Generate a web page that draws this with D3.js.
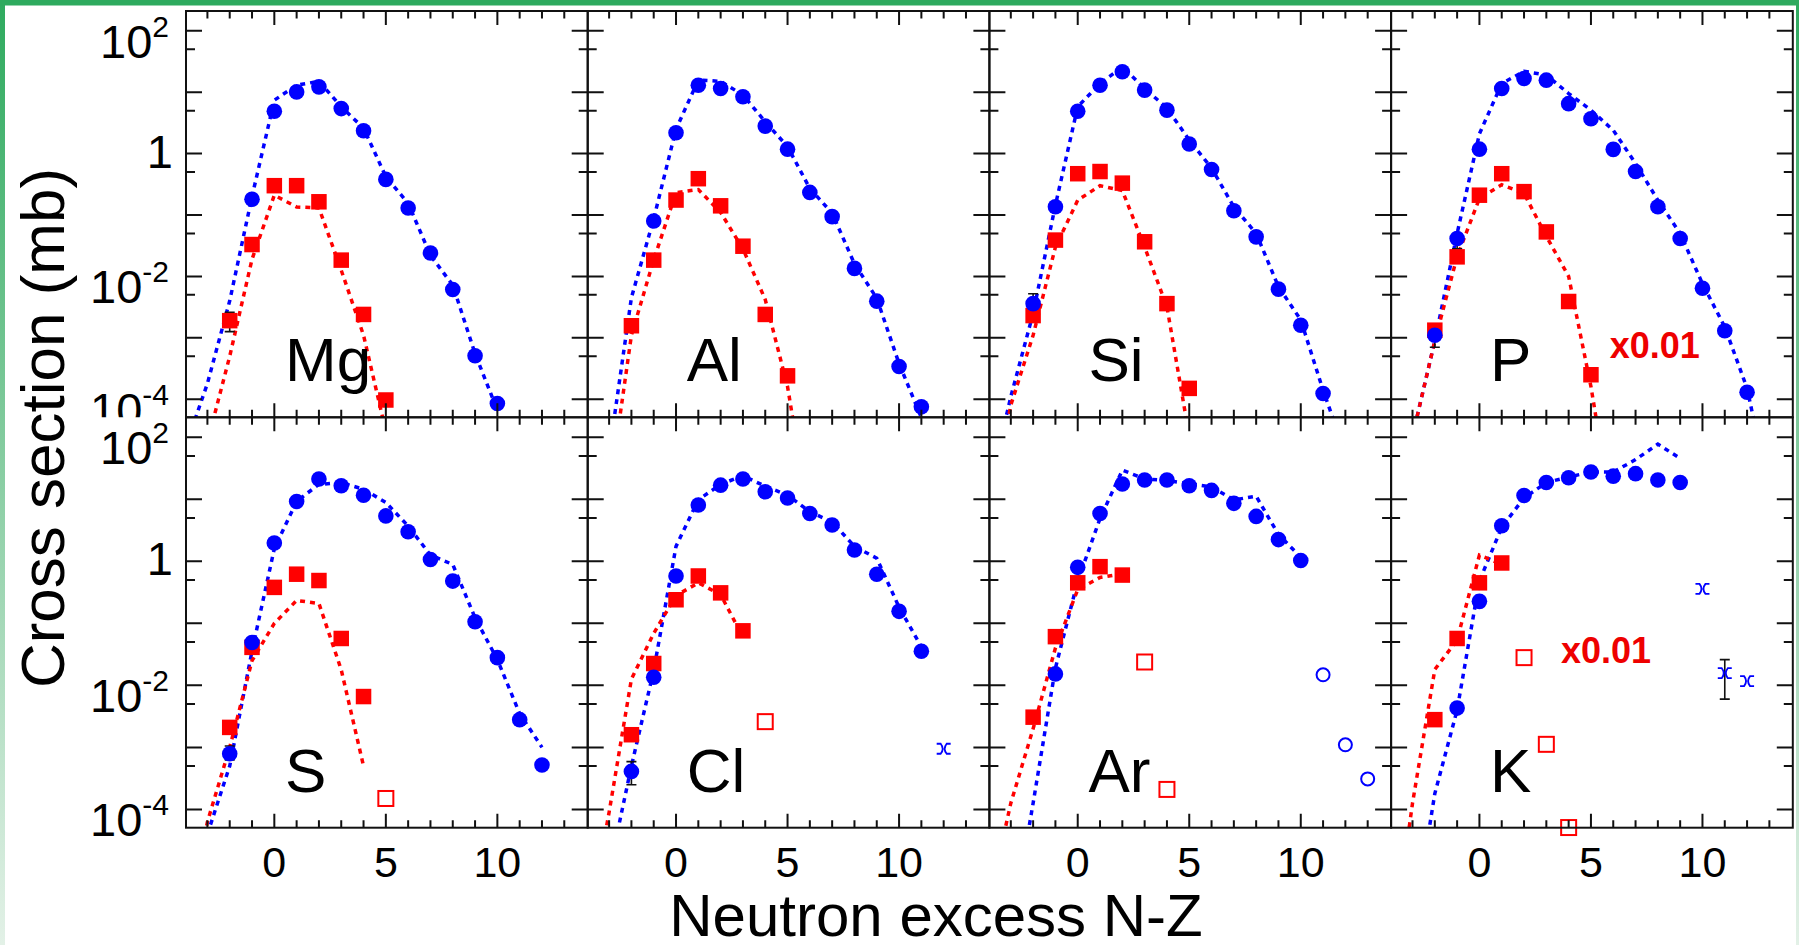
<!DOCTYPE html>
<html>
<head>
<meta charset="utf-8">
<script src="https://cdn.jsdelivr.net/npm/d3@7"></script>
<style>
  body { margin: 0; background: #fff; }
  svg { display: block; }
  text { font-family: "Liberation Sans", Arial, Helvetica, sans-serif; }
</style>
</head>
<body>
<svg id="chart" width="1799" height="945"></svg>
<script>
// one panel per element, 4 per row
var elements = ["Mg", "Al", "Si", "P", "S", "Cl", "Ar", "K"];

// measured cross sections [N-Z, mb], blue = filled circles
var blueFilled = [
  [[-1,0.18],[0,4.9],[1,10.1],[2,12.2],[3,5.4],[4,2.35],[5,0.38],[6,0.13],[7,0.024],[8,0.0061],[9,5.1e-4],[10,8.5e-5]],
  [[-1,0.080],[0,2.18],[1,13.0],[2,11.5],[3,8.4],[4,2.8],[5,1.18],[6,0.233],[7,0.094],[8,0.0135],[9,0.00395],[10,3.4e-4],[11,7.5e-5]],
  [[-2,3.6e-3],[-1,0.136],[0,4.9],[1,13],[2,21.5],[3,10.8],[4,5.1],[5,1.43],[6,0.55],[7,0.117],[8,0.044],[9,6.2e-3],[10,1.6e-3],[11,1.24e-4]],
  [[-2,1.1e-3],[-1,0.0415],[0,1.18],[1,11.5],[2,16.7],[3,15.7],[4,6.5],[5,3.7],[6,1.17],[7,0.51],[8,0.136],[9,0.0415],[10,6.4e-3],[11,1.3e-3],[12,1.3e-4]],
  [[-2,7.9e-4],[-1,0.049],[0,1.97],[1,9.2],[2,21.3],[3,16.5],[4,11.6],[5,5.4],[6,3.0],[7,1.07],[8,0.48],[9,0.106],[10,0.028],[11,2.8e-3],[12,5.2e-4]],
  [[-2,4.1e-4],[-1,0.0135],[0,0.58],[1,8.1],[2,16.9],[3,21.3],[4,13.2],[5,10.5],[6,5.9],[7,3.85],[8,1.52],[9,0.62],[10,0.156],[11,0.0354]],
  [[-1,0.0153],[0,0.8],[1,5.9],[2,17.6],[3,20.5],[4,20.5],[5,16.5],[6,13.9],[7,8.6],[8,5.3],[9,2.24],[10,1.03]],
  [[-1,4.3e-3],[0,0.226],[1,3.75],[2,11.5],[3,18.7],[4,22.2],[5,27.6],[6,23.6],[7,25.9],[8,20.5],[9,18.7]]
];

// red = filled squares
var redFilled = [
  [[-2,1.9e-3],[-1,0.033],[0,0.30],[1,0.30],[2,0.164],[3,0.0184],[4,2.4e-3],[5,9.7e-5]],
  [[-2,1.57e-3],[-1,0.0184],[0,0.175],[1,0.39],[2,0.141],[3,0.031],[4,2.4e-3],[5,2.4e-4]],
  [[-2,2.3e-3],[-1,0.039],[0,0.47],[1,0.51],[2,0.33],[3,0.0366],[4,3.6e-3],[5,1.5e-4]],
  [[-2,1.33e-3],[-1,0.0208],[0,0.21],[1,0.47],[2,0.24],[3,0.053],[4,3.9e-3],[5,2.5e-4]],
  [[-2,2.1e-3],[-1,0.041],[0,0.38],[1,0.62],[2,0.49],[3,0.057],[4,6.6e-3]],
  [[-2,1.6e-3],[-1,0.0225],[0,0.24],[1,0.58],[2,0.31],[3,0.0757]],
  [[-2,3.07e-3],[-1,0.061],[0,0.45],[1,0.82],[2,0.60]],
  [[-2,2.8e-3],[-1,0.057],[0,0.45],[1,0.94]]
];

// open symbols
var redOpen = [[], [], [], [], [[5,1.5e-4]], [[4,2.6e-3]], [[3,0.0238],[4,2.1e-4]], [[2,0.028],[3,1.12e-3],[4,5.1e-5]]];
var blueOpen = [[], [], [], [], [], [], [[11,0.0148],[12,1.1e-3],[13,3.1e-4]], []];
var blueCross = [[], [], [], [], [], [[12,9.5e-4]], [], [[10,0.36],[11,0.0157],[12,0.0117]]];

// model curves (dashed)
var blueModel = [
  [[-4,1.6e-5],[-3,1.8e-4],[-2,4e-3],[-1,0.2],[0,7.4],[1,13],[2,15],[3,5.8],[4,2.6],[5,0.42],[6,0.155],[7,0.022],[8,0.0072],[9,5.5e-4],[10,6.6e-5]],
  [[-3,1.3e-5],[-2,4.5e-3],[-1,0.087],[0,2.5],[1,15.8],[2,15],[3,9],[4,3.3],[5,1.3],[6,0.27],[7,0.107],[8,0.016],[9,0.0044],[10,3.8e-4],[11,5e-5]],
  [[-4,3e-6],[-3,1.1e-4],[-2,2.5e-3],[-1,0.145],[0,5.8],[1,13.8],[2,25.7],[3,11.5],[4,5.5],[5,1.66],[6,0.58],[7,0.135],[8,0.05],[9,6.8e-3],[10,1.95e-3],[11,1.4e-4],[12,1.3e-5]],
  [[-3,2.5e-5],[-2,8.9e-4],[-1,0.05],[0,2.1],[1,13.8],[2,21.9],[3,19],[4,9.5],[5,5.1],[6,2.4],[7,0.69],[8,0.174],[9,0.05],[10,7.6e-3],[11,1.5e-3],[12,1.5e-4],[13,3e-6]],
  [[-3,4e-5],[-2,5e-4],[-1,0.036],[0,1.6],[1,9.3],[2,17.4],[3,18.6],[4,14.5],[5,8.9],[6,3.7],[7,1.26],[8,0.89],[9,0.123],[10,0.026],[11,3.5e-3],[12,1e-3]],
  [[-3,1e-5],[-2,5e-4],[-1,0.0174],[0,1.74],[1,9.8],[2,17.4],[3,24],[4,16.2],[5,11.7],[6,6.3],[7,4.3],[8,1.74],[9,1.12],[10,0.182],[11,0.0417]],
  [[-3,1e-6],[-2,1.26e-4],[-1,0.019],[0,0.48],[1,4.9],[2,29.5],[3,21.4],[4,20],[5,17.8],[6,15.8],[7,9.8],[8,11.2],[9,2.7],[10,1.17]],
  [[-3,1e-6],[-2,1.8e-4],[-1,4e-3],[0,0.48],[1,3.55],[2,10.5],[3,18.6],[4,22.9],[5,27.5],[6,27.5],[7,43.6],[8,77.6],[9,45.7]]
];
var redModel = [
  [[-3,2e-5],[-2,5e-4],[-1,0.019],[0,0.21],[1,0.135],[2,0.13],[3,0.0126],[4,1.1e-3],[5,3e-5]],
  [[-3,3e-6],[-2,1.1e-3],[-1,0.0186],[0,0.23],[1,0.26],[2,0.11],[3,0.028],[4,4.2e-3],[5,1.6e-4],[6,1e-6]],
  [[-4,1e-6],[-3,8e-5],[-2,1.1e-3],[-1,0.03],[0,0.174],[1,0.3],[2,0.25],[3,0.03],[4,3.2e-3],[5,2.5e-5]],
  [[-3,2.5e-5],[-2,8.9e-4],[-1,0.021],[0,0.186],[1,0.31],[2,0.224],[3,0.045],[4,0.01],[5,1.6e-4],[6,1e-6]],
  [[-4,1e-6],[-3,6.3e-5],[-2,1e-3],[-1,0.025],[0,0.1],[1,0.234],[2,0.209],[3,0.0178],[4,5e-4]],
  [[-4,1e-6],[-3,9e-5],[-2,0.0126],[-1,0.069],[0,0.28],[1,0.45],[2,0.29],[3,0.06]],
  [[-4,3e-6],[-3,1.26e-4],[-2,2e-3],[-1,0.04],[0,0.35],[1,0.55],[2,0.63]],
  [[-4,3e-7],[-3,1.26e-4],[-2,0.018],[-1,0.054],[0,1.26],[1,0.89]]
];

// error bars [panel, N-Z, low, high]
var errorBars = [[0,-2,1.26e-3,2.6e-3],[2,-2,1.8e-3,5.2e-3],[3,-2,7e-4,1.5e-3],[3,-1,0.028,0.05],
                 [4,-2,6.3e-4,1.05e-3],[5,-2,2.5e-4,5.9e-4],[7,11,6e-3,0.026]];

// scaling notes [panel, N-Z, mb]
var notes = [[3,5.84,4.7e-4,"x0.01"],[7,3.66,0.023,"x0.01"]];

// axis ticks and labels
var xDomain = [-3.96, 14.05];
var yDomain = [Math.pow(10,-4.295), Math.pow(10,2.322)];
var xLabels = [0, 5, 10];
var yLabels = [1e2, 1, 1e-2, 1e-4];
var yLabelExp = ["2", "", "-2", "-4"];
var yMajor = [1e-4, 1e-3, 1e-2, 1e-1, 1, 10, 100];
var yMinor = [5e-4, 5e-3, 5e-2, 0.5, 5, 50];

var blue = "#0000ff", red = "#ff0000";
var svg = d3.select("#chart");
var defs = svg.append("defs");

// slide decoration: green band on top, fading strip on the sides
var grad = defs.append("linearGradient").attr("id", "side").attr("x1", 0).attr("x2", 0).attr("y1", 0).attr("y2", 1);
grad.append("stop").attr("offset", "0%").attr("stop-color", "#2eaa5e");
grad.append("stop").attr("offset", "100%").attr("stop-color", "#e3f1e7");
svg.append("rect").attr("x", 0).attr("y", 0).attr("width", 5).attr("height", 945).attr("fill", "url(#side)");
svg.append("rect").attr("x", 1796).attr("y", 0).attr("width", 3).attr("height", 945).attr("fill", "url(#side)");
svg.append("rect").attr("x", 0).attr("y", 0).attr("width", 1799).attr("height", 5.5).attr("fill", "#2eaa5e");

var left0 = 186, panelW = 401.7;
var rowTop = [11, 417.3], rowBottom = [417.3, 827.7];

defs.append("clipPath").attr("id", "topLabels").append("rect")
  .attr("x", 0).attr("y", 0).attr("width", left0).attr("height", rowBottom[0]);

var line = d3.line();

elements.forEach(function (name, i) {
  var col = i % 4, row = Math.floor(i / 4);
  var x0 = left0 + col * panelW, x1 = x0 + panelW;
  var x = d3.scaleLinear().domain(xDomain).range([x0, x1]);
  var y = d3.scaleLog().domain(yDomain).range([rowBottom[row], rowTop[row]]);
  var g = svg.append("g");

  defs.append("clipPath").attr("id", "clip" + i).append("rect")
    .attr("x", x0).attr("y", rowTop[row]).attr("width", panelW).attr("height", rowBottom[row] - rowTop[row]);

  line.x(function (d) { return x(d[0]); }).y(function (d) { return y(d[1]); });

  // model curves
  [[blueModel[i], blue], [redModel[i], red]].forEach(function (m) {
    g.append("path")
      .attr("clip-path", "url(#clip" + i + ")")
      .attr("d", line(m[0]))
      .attr("fill", "none")
      .attr("stroke", m[1])
      .attr("stroke-width", 3.5)
      .attr("stroke-dasharray", "5,5");
  });

  // error bars
  errorBars.filter(function (e) { return e[0] === i; }).forEach(function (e) {
    var ex = x(e[1]);
    g.append("path")
      .attr("d", "M" + ex + "," + y(e[2]) + "V" + y(e[3]) +
        "M" + (ex - 5) + "," + y(e[2]) + "h10M" + (ex - 5) + "," + y(e[3]) + "h10")
      .attr("stroke", "#111").attr("stroke-width", 1.6).attr("fill", "none");
  });

  g.selectAll(".rf").data(redFilled[i]).enter().append("rect")
    .attr("x", function (d) { return x(d[0]) - 7.75; })
    .attr("y", function (d) { return y(d[1]) - 7.75; })
    .attr("width", 15.5).attr("height", 15.5)
    .attr("fill", red);

  g.selectAll(".bf").data(blueFilled[i]).enter().append("circle")
    .attr("cx", function (d) { return x(d[0]); })
    .attr("cy", function (d) { return y(d[1]); })
    .attr("r", 7.8)
    .attr("fill", blue);

  g.selectAll(".ro").data(redOpen[i]).enter().append("rect")
    .attr("x", function (d) { return x(d[0]) - 7.5; })
    .attr("y", function (d) { return y(d[1]) - 7.5; })
    .attr("width", 15).attr("height", 15)
    .attr("fill", "#fff").attr("stroke", red).attr("stroke-width", 2);

  g.selectAll(".bo").data(blueOpen[i]).enter().append("circle")
    .attr("cx", function (d) { return x(d[0]); })
    .attr("cy", function (d) { return y(d[1]); })
    .attr("r", 6.5)
    .attr("fill", "none").attr("stroke", blue).attr("stroke-width", 2);

  g.selectAll(".bc").data(blueCross[i]).enter().append("path")
    .attr("transform", function (d) { return "translate(" + x(d[0]) + "," + y(d[1]) + ")"; })
    .attr("d", "M-7,-5H-3Q1,0 -3,5H-7M7,-5H3Q-1,0 3,5H7")
    .attr("fill", "none").attr("stroke", blue).attr("stroke-width", 1.8);

  // frame and inward ticks on all four sides
  g.append("rect")
    .attr("x", x0).attr("y", rowTop[row]).attr("width", panelW).attr("height", rowBottom[row] - rowTop[row])
    .attr("fill", "none").attr("stroke", "#111").attr("stroke-width", 2);

  var ticks = "";
  d3.range(-3, 15).forEach(function (v) {
    if (v < xDomain[0] || v > xDomain[1] - 0.2) return;
    var len = v % 5 === 0 ? 14 : 7.5, tx = x(v);
    ticks += "M" + tx + "," + rowTop[row] + "v" + len;
    ticks += "M" + tx + "," + rowBottom[row] + "v" + (-len);
  });
  yMajor.forEach(function (v) {
    ticks += "M" + x0 + "," + y(v) + "h16M" + x1 + "," + y(v) + "h-16";
  });
  yMinor.forEach(function (v) {
    ticks += "M" + x0 + "," + y(v) + "h9M" + x1 + "," + y(v) + "h-9";
  });
  g.append("path").attr("d", ticks).attr("stroke", "#111").attr("stroke-width", 2).attr("fill", "none");

  // element name
  g.append("text")
    .attr("x", x0 + 99).attr("y", rowBottom[row] - 36)
    .attr("font-size", 62).attr("fill", "#000")
    .text(name);

  notes.filter(function (n) { return n[0] === i; }).forEach(function (n) {
    g.append("text")
      .attr("x", x(n[1])).attr("y", y(n[2]))
      .attr("font-size", 36).attr("font-weight", "bold").attr("fill", "#ee0000")
      .text(n[3]);
  });

  // y tick labels on the first column
  if (col === 0) {
    var lab = svg.append("g");
    if (row === 0) lab.attr("clip-path", "url(#topLabels)");
    yLabels.forEach(function (v, k) {
      var t = lab.append("text")
        .attr("x", yLabelExp[k] ? 169 : 173)
        .attr("y", y(v) + (yLabelExp[k] ? 27 : 14))
        .attr("text-anchor", "end")
        .attr("font-size", 47);
      if (yLabelExp[k]) {
        t.append("tspan").text("10");
        t.append("tspan").attr("dy", -21).attr("font-size", 30).text(yLabelExp[k]);
      } else {
        t.text("1");
      }
    });
  }

  // x tick labels under the bottom row
  if (row === 1) {
    xLabels.forEach(function (v) {
      g.append("text")
        .attr("x", x(v)).attr("y", 877)
        .attr("text-anchor", "middle")
        .attr("font-size", 43)
        .text(v);
    });
  }
});

// axis titles
svg.append("text")
  .attr("transform", "translate(64,428) rotate(-90)")
  .attr("text-anchor", "middle")
  .attr("font-size", 62)
  .text("Cross section (mb)");

svg.append("text")
  .attr("x", 936).attr("y", 936)
  .attr("text-anchor", "middle")
  .attr("font-size", 60)
  .text("Neutron excess N-Z");
</script>
</body>
</html>
